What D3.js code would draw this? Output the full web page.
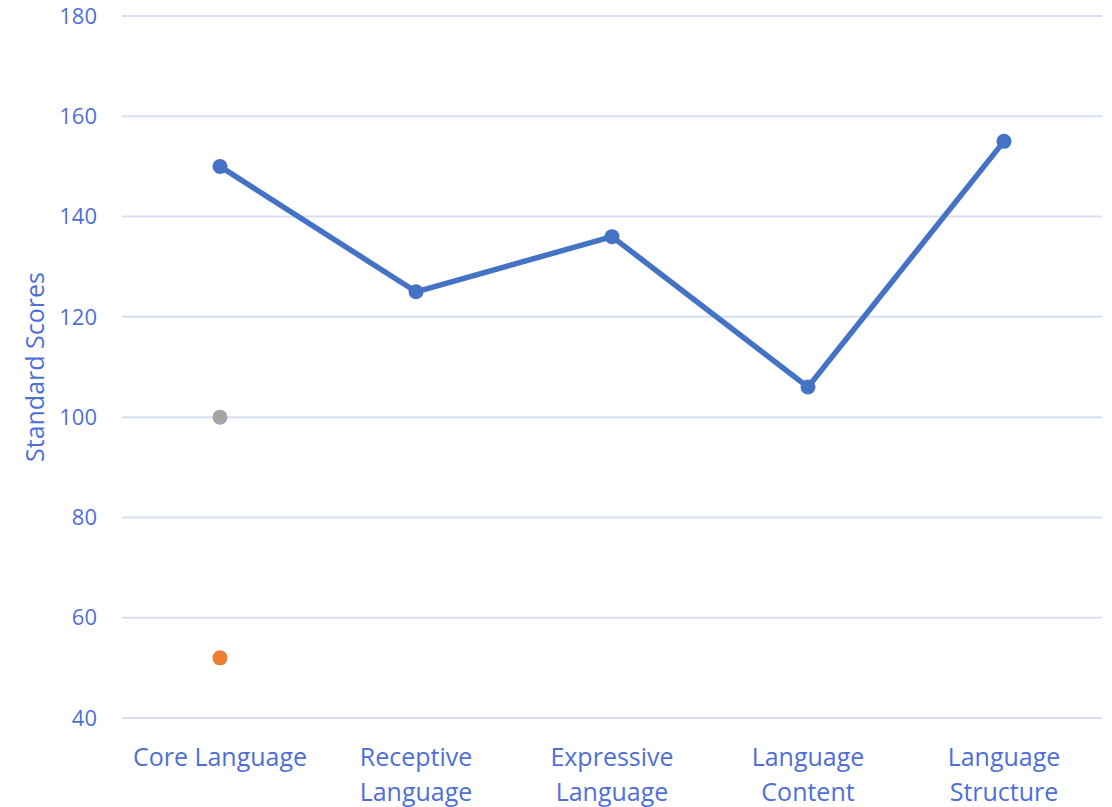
<!DOCTYPE html>
<html>
<head>
<meta charset="utf-8">
<script src="https://cdn.jsdelivr.net/npm/d3@7"></script>
<style>
  body { margin: 0; background: #fff; }
  text { font-family: "Segoe UI", "Open Sans", sans-serif; fill: #4f6fd6; }
</style>
</head>
<body>
<div id="chart"></div>
<script>
const categories = ['Core Language', 'Receptive Language', 'Expressive Language', 'Language Content', 'Language Structure'];
const scores = [150, 125, 136, 106, 155];
const grayPoints = [{cat: 'Core Language', value: 100}];
const orangePoints = [{cat: 'Core Language', value: 52}];
const yTicks = [40, 60, 80, 100, 120, 140, 160, 180];

const chartWidth = 1112, chartHeight = 807;
const plotLeft = 122, plotRight = 1102, plotTop = 16, plotBottom = 718;

const svg = d3.select('#chart').append('svg')
  .attr('width', chartWidth)
  .attr('height', chartHeight);

const xScale = d3.scaleBand().domain(categories).range([plotLeft, plotRight]);
const yScale = d3.scaleLinear().domain([40, 180]).range([plotBottom, plotTop]);
const cx = c => xScale(c) + xScale.bandwidth() / 2;

// gridlines
svg.append('g')
  .selectAll('line')
  .data(yTicks)
  .join('line')
  .attr('x1', plotLeft).attr('x2', plotRight)
  .attr('y1', d => yScale(d)).attr('y2', d => yScale(d))
  .attr('stroke', '#d6dff2')
  .attr('stroke-width', 2);

// y tick labels
svg.append('g')
  .selectAll('text')
  .data(yTicks)
  .join('text')
  .attr('x', 97)
  .attr('y', d => yScale(d))
  .attr('dy', '0.35em')
  .attr('text-anchor', 'end')
  .style('font-size', '22px')
  .text(d => d);

// x labels, wrapped into two lines
svg.append('g')
  .selectAll('text')
  .data(categories)
  .join('text')
  .attr('x', d => cx(d))
  .attr('y', 766)
  .attr('text-anchor', 'middle')
  .style('font-size', '25px')
  .each(function(d) {
    const lines = d === 'Core Language' ? [d] : d.split(' ');
    lines.forEach((w, i) => {
      d3.select(this).append('tspan')
        .attr('x', cx(d))
        .attr('dy', i === 0 ? 0 : 35)
        .text(w);
    });
  });

// y axis title
svg.append('text')
  .attr('transform', `translate(44,${(plotTop + plotBottom) / 2}) rotate(-90)`)
  .attr('text-anchor', 'middle')
  .style('font-size', '25px')
  .text('Standard Scores');

const line = d3.line()
  .x((d, i) => cx(categories[i]))
  .y(d => yScale(d));

svg.append('path')
  .datum(scores)
  .attr('fill', 'none')
  .attr('stroke', '#4472c4')
  .attr('stroke-width', 5.5)
  .attr('stroke-linejoin', 'round')
  .attr('stroke-linecap', 'round')
  .attr('d', line);

svg.append('g')
  .selectAll('circle')
  .data(scores)
  .join('circle')
  .attr('cx', (d, i) => cx(categories[i]))
  .attr('cy', d => yScale(d))
  .attr('r', 7.5)
  .attr('fill', '#4472c4');

svg.append('g')
  .selectAll('circle')
  .data(grayPoints)
  .join('circle')
  .attr('cx', d => cx(d.cat))
  .attr('cy', d => yScale(d.value))
  .attr('r', 7.5)
  .attr('fill', '#a5a5a5');

svg.append('g')
  .selectAll('circle')
  .data(orangePoints)
  .join('circle')
  .attr('cx', d => cx(d.cat))
  .attr('cy', d => yScale(d.value))
  .attr('r', 7.5)
  .attr('fill', '#ed7d31');
</script>
</body>
</html>
